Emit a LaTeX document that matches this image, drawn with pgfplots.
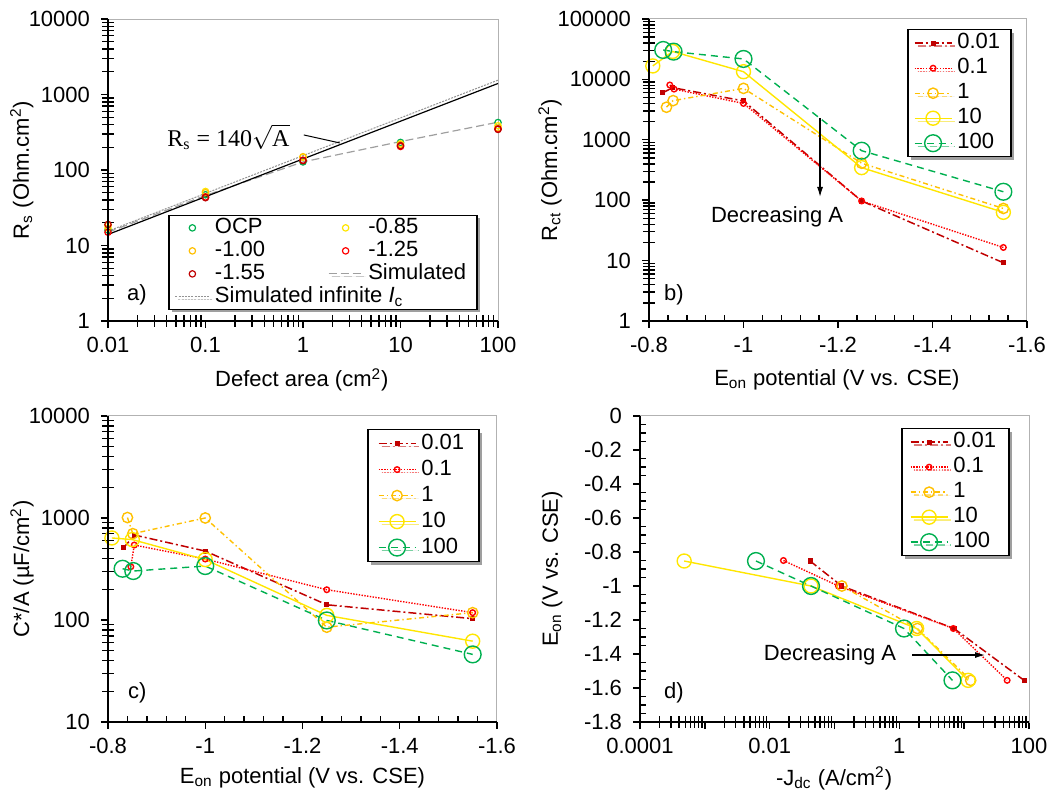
\documentclass[border=0pt]{standalone}
\usepackage{fontspec}
\setmainfont{Liberation Sans}
\newfontfamily\serif{Liberation Serif}
\usepackage{pgfplots}
\pgfplotsset{compat=1.18}
\usetikzlibrary{shadows,arrows.meta}

\definecolor{cgreen}{RGB}{0,176,80}
\definecolor{cyellow}{RGB}{255,230,0}
\definecolor{corange}{RGB}{255,192,0}
\definecolor{cred}{RGB}{255,0,0}
\definecolor{cdred}{RGB}{192,0,0}

\pgfplotsset{
  panel/.style={
    scale only axis, anchor=south west,
    font=\fontsize{11}{13}\selectfont,
    axis line style={draw=gray!60, line width=0.5pt},
    tick style={draw=black, line width=0.7pt},
    major tick length=3.5pt,
    tick align=outside, xtick pos=bottom, ytick pos=left,
    extra tick style={tick align=inside, major tick length=3pt, grid=none},
    extra x tick labels={}, extra y tick labels={},
    /pgf/number format/assume math mode=true,
    xticklabel style={yshift=-1pt},
    yticklabel style={xshift=-2pt},
    legend cell align=left,
    legend image code/.code={\draw[mark repeat=2,mark phase=2,##1] plot coordinates {(0cm,0cm) (0.325cm,0cm) (0.65cm,0cm)};},
  },
  leg/.style={legend style={draw=black, line width=0.75pt, fill=white,
    drop shadow={shadow xshift=1.5pt, shadow yshift=-1.5pt, fill=black!75},
    inner xsep=3pt, inner ysep=0.5pt,
    nodes={inner xsep=2.5pt, inner ysep=0.5pt, text height=8.5pt, text depth=3pt,
      font=\fontsize{11}{13}\selectfont}}},
  s001/.style={color=cdred, line width=0.75pt, dash pattern=on 4pt off 1.5pt on 1pt off 1.5pt,
    mark=square*, mark size=0.9pt, mark options={solid}},
  s01/.style={color=cred, line width=0.7pt, dash pattern=on 0.7pt off 0.7pt,
    mark=o, mark size=1.4pt, mark options={solid}},
  s1/.style={color=corange, line width=0.7pt, dash pattern=on 2.5pt off 1.5pt on 0.7pt off 1.5pt,
    mark=o, mark size=2.6pt, mark options={solid}},
  s10/.style={color=cyellow, line width=0.7pt, solid, mark=o, mark size=3.5pt},
  s100/.style={color=cgreen, line width=0.7pt, dash pattern=on 3.5pt off 2.5pt,
    mark=o, mark size=4.2pt, mark options={solid}},
  pa/.style={only marks, mark=o, mark size=1.6pt, line width=0.6pt},
  potx/.style={xmin=-1.6, xmax=-0.8, x dir=reverse,
    xtick={-0.8,-1,-1.2,-1.4,-1.6}, xticklabels={-0.8,-1,-1.2,-1.4,-1.6},
    extra x ticks={-0.84,-0.88,-0.92,-0.96,-1.04,-1.08,-1.12,-1.16,
      -1.24,-1.28,-1.32,-1.36,-1.44,-1.48,-1.52,-1.56}},
}

\begin{document}
\begin{tikzpicture}
\path[use as bounding box] (0,0) rectangle (529pt,396pt);

% ---------- a) ----------
\begin{axis}[panel, name=pa, at={(54pt,235.5pt)}, width=195pt, height=151pt,
  xmode=log, ymode=log, xmin=0.01, xmax=100, ymin=1, ymax=10000,
  xtick={0.01,0.1,1,10,100}, xticklabels={0.01,0.1,1,10,100},
  extra x ticks={0.02,0.03,0.04,0.05,0.06,0.07,0.08,0.09,0.2,0.3,0.4,0.5,0.6,0.7,0.8,0.9,
    2,3,4,5,6,7,8,9,20,30,40,50,60,70,80,90},
  ytick={1,10,100,1000,10000}, yticklabels={1,10,100,1000,10000},
  extra y ticks={2,3,4,5,6,7,8,9,20,30,40,50,60,70,80,90,200,300,400,500,600,700,800,900,
    2000,3000,4000,5000,6000,7000,8000,9000},
  xlabel={Defect area (cm\textsuperscript{2})},
  ylabel={R\textsubscript{s} (Ohm.cm\textsuperscript{2})},
  xlabel style={at={(axis description cs:0.497,-0.195)}, anchor=center},
  ylabel style={at={(axis description cs:-0.221,0.5)}, anchor=center},
  legend columns=2, leg,
  legend style={at={(0.154,0.036)}, anchor=south west, inner xsep=3pt,
    nodes={text height=8.2pt, text depth=2.3pt}},
  legend image code/.code={\draw[mark repeat=2,mark phase=2,#1] plot coordinates {(0cm,0cm) (0.3cm,0cm) (0.6cm,0cm)};},
]
\addplot[pa, cgreen] coordinates {(0.01,16) (0.1,47) (1,128) (10,232) (100,425)};
\addlegendentry{\makebox[54pt][l]{OCP}}
\addplot[pa, cyellow] coordinates {(0.01,17) (0.1,52) (1,148) (10,222) (100,385)};
\addlegendentry{-0.85}
\addplot[pa, corange] coordinates {(0.01,18.5) (0.1,50) (1,150) (10,215) (100,360)};
\addlegendentry{\makebox[54pt][l]{-1.00}}
\addplot[pa, cred] coordinates {(0.01,15) (0.1,44) (1,135) (10,205) (100,350)};
\addlegendentry{-1.25}
\addplot[pa, cdred] coordinates {(0.01,19) (0.1,43) (1,133) (10,210) (100,345)};
\addlegendentry{\makebox[54pt][l]{-1.55}}
\addplot[gray!75, line width=0.6pt, dash pattern=on 4pt off 2pt] coordinates {(0.01,15) (0.1,46) (1,128) (10,238) (100,430)};
\addlegendentry{Simulated}
\addplot[gray!85, line width=0.5pt, dash pattern=on 1pt off 0.6pt] coordinates {(0.01,15.5) (100,1550)};
\addlegendentry{\makebox[54pt][l]{\rlap{Simulated infinite \textit{I}\textsubscript{c}}}}
\addplot[black, line width=0.6pt, forget plot] coordinates {(0.01,14) (100,1400)};
\node[anchor=east, font=\fontsize{12}{14}\selectfont] at (axis cs:0.86,273) {\serif R\textsubscript{s} = 140$\sqrt{\hbox{\serif A}}$};
\draw[black, line width=0.5pt] (axis cs:1.02,291) -- (axis cs:2.39,228);
\node at (rel axis cs:0.074,0.086) {a)};
\end{axis}
\draw[black, line width=0.75pt] (pa.north west) -- (pa.south west) -- (pa.south east);

% ---------- b) ----------
\begin{axis}[panel, potx, name=pb, at={(324.5pt,235.5pt)}, width=189pt, height=151pt,
  ymode=log, ymin=1, ymax=100000,
  ytick={1,10,100,1000,10000,100000}, yticklabels={1,10,100,1000,10000,100000},
  extra y ticks={2,3,4,5,6,7,8,9,20,30,40,50,60,70,80,90,200,300,400,500,600,700,800,900,
    2000,3000,4000,5000,6000,7000,8000,9000,20000,30000,40000,50000,60000,70000,80000,90000},
  xlabel={E\textsubscript{on} potential (V vs. CSE)},
  ylabel={R\textsubscript{ct} (Ohm.cm\textsuperscript{2})},
  xlabel style={at={(axis description cs:0.497,-0.195)}, anchor=center},
  ylabel style={at={(axis description cs:-0.262,0.5)}, anchor=center},
  leg, legend style={at={(0.960,0.967)}, anchor=north east},
]
\addplot[s001] coordinates {(-0.829,6000) (-0.85,7300) (-1.0,4400) (-1.25,97) (-1.55,9.2)};
\addlegendentry{0.01}
\addplot[s01] coordinates {(-0.844,8080) (-0.853,6900) (-1.0,4000) (-1.25,97) (-1.55,16.5)};
\addlegendentry{0.1}
\addplot[s1] coordinates {(-0.837,3460) (-0.851,4450) (-1.0,7100) (-1.25,410) (-1.55,73)};
\addlegendentry{1}
\addplot[s10] coordinates {(-0.808,16700) (-0.85,29000) (-1.0,13400) (-1.25,346) (-1.55,63)};
\addlegendentry{10}
\addplot[s100] coordinates {(-0.830,30700) (-0.852,28800) (-1.0,21800) (-1.25,660) (-1.55,138)};
\addlegendentry{100}
\draw[-{Latex[length=5pt,width=3pt]}, line width=0.6pt] (axis cs:-1.162,2296) -- (axis cs:-1.162,113);
\node at (axis cs:-1.071,52.7) {Decreasing A};
\node at (rel axis cs:0.066,0.086) {b)};
\end{axis}
\draw[black, line width=0.75pt] (pb.north west) -- (pb.south west) -- (pb.south east);

% ---------- c) ----------
\begin{axis}[panel, potx, name=pc, at={(54pt,35pt)}, width=194.5pt, height=153pt,
  ymode=log, ymin=10, ymax=10000,
  ytick={10,100,1000,10000}, yticklabels={10,100,1000,10000},
  extra y ticks={20,30,40,50,60,70,80,90,200,300,400,500,600,700,800,900,
    2000,3000,4000,5000,6000,7000,8000,9000},
  xlabel={E\textsubscript{on} potential (V vs. CSE)},
  ylabel={C*/A (µF/cm\textsuperscript{2})},
  xlabel style={at={(axis description cs:0.5,-0.183)}, anchor=center},
  ylabel style={at={(axis description cs:-0.221,0.5)}, anchor=center},
  leg, legend style={at={(0.956,0.958)}, anchor=north east, inner xsep=5pt,
    nodes={text height=9pt, text depth=3pt}},
]
\addplot[s001] coordinates {(-0.832,512) (-0.855,680) (-1.0,474) (-1.25,141) (-1.55,103)};
\addlegendentry{0.01}
\addplot[s01] coordinates {(-0.847,333) (-0.854,543) (-1.0,396) (-1.25,198) (-1.55,118)};
\addlegendentry{0.1}
\addplot[s1] coordinates {(-0.840,1010) (-0.851,702) (-1.0,1000) (-1.25,85) (-1.55,118)};
\addlegendentry{1}
\addplot[s10] coordinates {(-0.808,637) (-0.85,614) (-1.0,391) (-1.25,111) (-1.55,62)};
\addlegendentry{10}
\addplot[s100] coordinates {(-0.830,318) (-0.852,302) (-1.0,338) (-1.25,99) (-1.55,46)};
\addlegendentry{100}
\node at (rel axis cs:0.075,0.095) {c)};
\end{axis}
\draw[black, line width=0.75pt] (pc.north west) -- (pc.south west) -- (pc.south east);

% ---------- d) ----------
\begin{axis}[panel, name=pd, at={(320pt,35pt)}, width=194.5pt, height=153pt,
  xmode=log, xmin=0.0001, xmax=100, ymin=-1.8, ymax=0,
  xtick={0.0001,0.001,0.01,0.1,1,10,100}, xticklabels={0.0001,,0.01,,1,,100},
  extra x ticks={0.0002,0.0003,0.0004,0.0005,0.0006,0.0007,0.0008,0.0009,
    0.002,0.003,0.004,0.005,0.006,0.007,0.008,0.009,
    0.02,0.03,0.04,0.05,0.06,0.07,0.08,0.09,0.2,0.3,0.4,0.5,0.6,0.7,0.8,0.9,
    2,3,4,5,6,7,8,9,20,30,40,50,60,70,80,90},
  ytick={0,-0.2,-0.4,-0.6,-0.8,-1,-1.2,-1.4,-1.6,-1.8},
  yticklabels={0,-0.2,-0.4,-0.6,-0.8,-1,-1.2,-1.4,-1.6,-1.8},
  extra y ticks={-0.05,-0.1,-0.15,-0.25,-0.3,-0.35,-0.45,-0.5,-0.55,-0.65,-0.7,-0.75,
    -0.85,-0.9,-0.95,-1.05,-1.1,-1.15,-1.25,-1.3,-1.35,-1.45,-1.5,-1.55,-1.65,-1.7,-1.75},
  xlabel={-J\textsubscript{dc} (A/cm\textsuperscript{2})},
  ylabel={E\textsubscript{on} (V vs. CSE)},
  xlabel style={at={(axis description cs:0.499,-0.183)}, anchor=center},
  ylabel style={at={(axis description cs:-0.226,0.5)}, anchor=center},
  leg, legend style={at={(0.951,0.961)}, anchor=north east, inner xsep=4pt},
]
\addplot[s001] coordinates {(0.042,-0.853) (0.129,-1.0) (6.97,-1.25) (84,-1.555)};
\addlegendentry{0.01}
\addplot[s01] coordinates {(0.0163,-0.85) (0.115,-1.0) (6.8,-1.25) (46,-1.555)};
\addlegendentry{0.1}
\addplot[s1] coordinates {(0.13,-1.0) (1.9,-1.25) (12.6,-1.555)};
\addlegendentry{1}
\addplot[s10] coordinates {(0.00048,-0.853) (0.0434,-1.0) (1.85,-1.25) (11.5,-1.555)};
\addlegendentry{10}
\addplot[s100] coordinates {(0.00615,-0.853) (0.0434,-1.0) (1.18,-1.25) (6.6,-1.555)};
\addlegendentry{100}
\node at (axis cs:0.0853,-1.406) {Decreasing A};
\draw[-{Latex[length=5pt,width=3pt]}, line width=0.6pt] (axis cs:1.57,-1.406) -- (axis cs:21,-1.406);
\node at (rel axis cs:0.087,0.095) {d)};
\end{axis}
\draw[black, line width=0.75pt] (pd.north west) -- (pd.south west) -- (pd.south east);
\end{tikzpicture}
\end{document}
